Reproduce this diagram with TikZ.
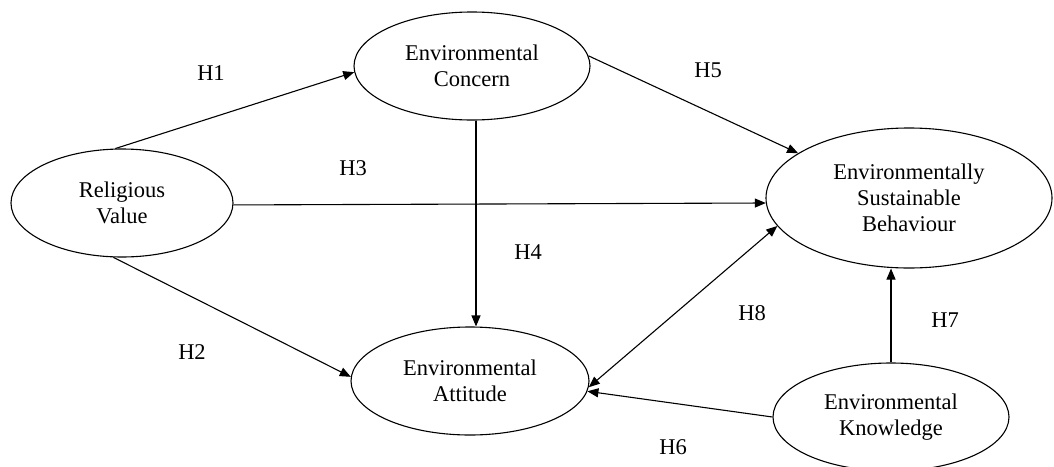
\documentclass[tikz,border=0pt]{standalone}
\usepackage{fontspec}
\setmainfont{Liberation Serif}
\usetikzlibrary{shapes.geometric,arrows.meta}
\tikzset{
  construct/.style={draw, ellipse, line width=1.1pt, inner sep=0pt, align=center,
    font=\fontsize{22.5}{26}\selectfont},
  link/.style={line width=1.1pt, -{Triangle[length=11pt,width=9pt]}},
  both/.style={line width=1.1pt, {Triangle[length=11pt,width=9pt]}-{Triangle[length=11pt,width=9pt]}},
  hyp/.style={font=\fontsize{22.5}{26}\selectfont, inner sep=0pt}
}
\begin{document}
\begin{tikzpicture}[x=1pt,y=-1pt]
\useasboundingbox (0,0) rectangle (1054,466);
\node[construct, minimum width=222pt, minimum height=108pt] (rv) at (122,203) {Religious\\Value};
\node[construct, minimum width=236pt, minimum height=108pt] (ec) at (472,66) {Environmental\\Concern};
\node[construct, minimum width=238pt, minimum height=108pt] (ea) at (470,381) {Environmental\\Attitude};
\node[construct, minimum width=286pt, minimum height=140pt] (esb) at (909,198) {Environmentally\\Sustainable\\Behaviour};
\node[construct, minimum width=236pt, minimum height=108pt] (ek) at (891,417) {Environmental\\Knowledge};

\draw[link] (rv.97) -- (ec.183);
\draw[link] (rv.261) -- (ea.178);
\draw[link] (rv.-1) -- (esb.182);
\draw[link] ([xshift=4pt]ec.south) -- ([xshift=4pt]ec.south |- ea.north);
\draw[link] (ec.5) -- (esb.158.8);
\draw[link] (ek.west) -- (ea.-5);
\draw[link] (ek.north) -- (ek.north |- esb.south);
\draw[both] (ea.-3) -- (esb.192.8);

\node[hyp] (h1) at (211,73) {H1};
\node[hyp] (h2) at (192,352) {H2};
\node[hyp] (h3) at (353,168) {H3};
\node[hyp] (h4) at (528,252) {H4};
\node[hyp] (h5) at (708,70) {H5};
\node[hyp] (h6) at (673,447) {H6};
\node[hyp] (h7) at (945,320) {H7};
\node[hyp] (h8) at (752,313) {H8};
\end{tikzpicture}
\end{document}
